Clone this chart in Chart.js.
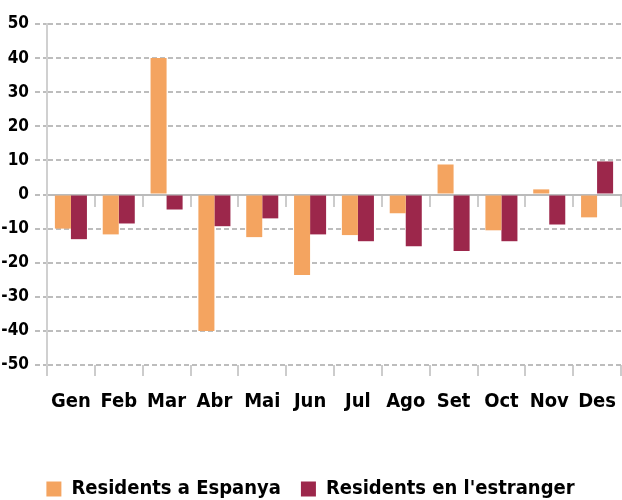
<!DOCTYPE html>
<html lang="ca">
<head>
  <meta charset="UTF-8">
  <title>Residents</title>
  <style>
    body { margin: 0; padding: 0; background: #fff; }
    #wrap { width: 622px; height: 500px; }
  </style>
</head>
<body>
  <div id="wrap"><canvas id="chart"></canvas></div>

  <script src="https://cdn.jsdelivr.net/npm/chart.js"></script>
  <script>
    // dades
    const months = ['Gen', 'Feb', 'Mar', 'Abr', 'Mai', 'Jun', 'Jul', 'Ago', 'Set', 'Oct', 'Nov', 'Des'];
    const residentsEspanya = [-10, -11.7, 40, -40, -12.5, -23.6, -11.9, -5.5, 8.8, -10.5, 1.5, -6.7];
    const residentsEstranger = [-13.1, -8.5, -4.4, -9.3, -7, -11.7, -13.7, -15.2, -16.6, -13.7, -8.8, 9.7];
    const yTicks = [-50, -40, -30, -20, -10, 0, 10, 20, 30, 40, 50];

    const fontFamily = "'Liberation Sans Narrow', 'DejaVu Sans Condensed', sans-serif";
    const gridColor = '#bdbdbd';

    new Chart(document.getElementById('chart'), {
      type: 'bar',
      data: {
        labels: months,
        datasets: [{
          label: 'Residents a Espanya',
          data: residentsEspanya,
          backgroundColor: '#f4a460'
        }, {
          label: "Residents en l'estranger",
          data: residentsEstranger,
          backgroundColor: '#9c274b'
        }]
      },
      options: {
        responsive: true,
        maintainAspectRatio: false,
        animation: false,
        layout: { padding: { top: 24, right: 1, left: 0, bottom: -9 } },
        datasets: {
          bar: { categoryPercentage: 0.67, barPercentage: 1 }
        },
        plugins: {
          tooltip: { enabled: false },
          legend: {
            position: 'bottom',
            labels: {
              boxWidth: 15,
              boxHeight: 15,
              padding: 20,
              color: '#000',
              font: { family: fontFamily, size: 20, weight: 'bold' }
            }
          }
        },
        scales: {
          x: {
            position: 'bottom',
            offset: true,
            grid: { offset: true, drawOnChartArea: false, tickLength: 11, color: '#cccccc', lineWidth: 2 },
            border: { display: false },
            ticks: {
              padding: 14,
              color: '#000',
              maxRotation: 0,
              font: { family: fontFamily, size: 20, weight: 'bold' }
            },
            afterFit: (scale) => {
              scale.height += 31;
              scale.paddingLeft = 0;
              scale.paddingRight = 0;
            }
          },
          x2: {
            type: 'category',
            labels: months,
            position: { y: 0 },
            offset: true,
            grid: { offset: true, drawOnChartArea: false, tickLength: 11, color: '#cccccc', lineWidth: 2 },
            border: { display: true, color: '#bbbbbb', width: 2 },
            ticks: { display: false }
          },
          y: {
            min: -50,
            max: 50,
            afterBuildTicks: (scale) => { scale.ticks = yTicks.map(v => ({ value: v })); },
            grid: { color: gridColor, lineWidth: 2, tickLength: 12, tickBorderDash: [5, 3] },
            border: { display: true, color: '#d0d0d0', width: 2, dash: [5, 3] },
            ticks: {
              padding: 6,
              color: '#000',
              font: { family: fontFamily, size: 17, weight: 'bold' }
            },
            afterFit: (scale) => { scale.width = 47; }
          }
        }
      }
    });
  </script>
</body>
</html>
